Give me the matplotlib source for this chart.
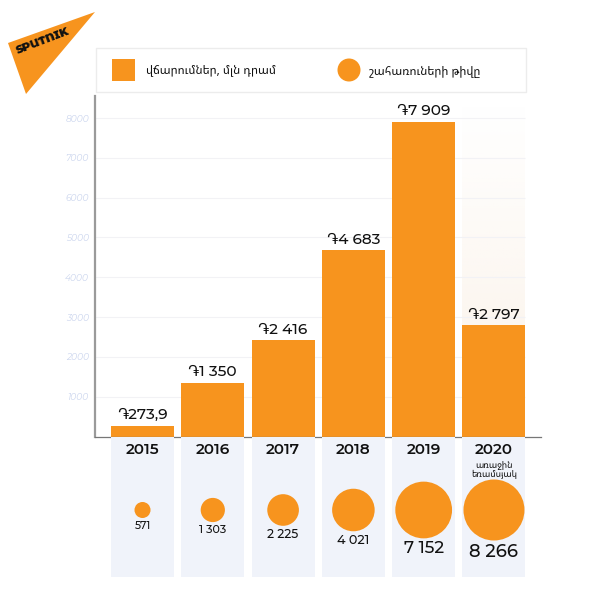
import numpy as np
import matplotlib
matplotlib.use("Agg")
import matplotlib.pyplot as plt
from matplotlib.patches import Polygon, Rectangle, Circle

# digits in Montserrat, dram sign and Armenian text from the Noto face
NUM_FONT = ['Montserrat Alternates', 'Noto Sans Armenian', 'Inter', 'DejaVu Sans']
ARM_FONT = ['Noto Sans Armenian', 'DejaVu Sans']
plt.rcParams['font.family'] = NUM_FONT

# data
years = ["2015", "2016", "2017", "2018", "2019", "2020"]
payments = [273.9, 1350, 2416, 4683, 7909, 2797]
payment_labels = ["֏273,9", "֏1 350", "֏2 416", "֏4 683", "֏7 909", "֏2 797"]
beneficiaries = [571, 1303, 2225, 4021, 7152, 8266]
beneficiary_labels = ["571", "1 303", "2 225", "4 021", "7 152", "8 266"]
yticks = [1000, 2000, 3000, 4000, 5000, 6000, 7000, 8000]
legend_labels = ["վճարումներ, մլն դրամ", "շահառուների թիվը"]
partial_year_note = "առաջին\nեռամսյակ"

W, H = 600, 595
ORANGE = "#f7941e"
PANEL = "#f0f3fa"
TEXT = "#111111"


def px_axes(left, top, right, bottom):
    return fig.add_axes([left / W, 1 - bottom / H, (right - left) / W, (bottom - top) / H])


fig = plt.figure(figsize=(W / 100, H / 100), dpi=100, facecolor="white")

# whole figure overlay in pixel coords, for logo and legend
bg = px_axes(0, 0, W, H)
bg.set_xlim(0, W)
bg.set_ylim(H, 0)
bg.axis("off")

bg.add_patch(Polygon([(95, 12), (8, 43), (26, 94)], closed=True, color=ORANGE, lw=0))
bg.text(43, 41, "SPUTNIK", rotation=21, rotation_mode="anchor", ha="center", va="center",
        fontsize=8.2, fontweight=900, color="#111111")

bg.add_patch(Rectangle((96, 48), 430, 44, fc="white", ec="#ececec", lw=1))
bg.add_patch(Rectangle((112, 59), 23, 22, fc=ORANGE, lw=0))
bg.add_patch(Circle((349, 70), 11.5, fc=ORANGE, lw=0))
bg.text(146, 70, legend_labels[0], va="center", fontsize=8.5, color=TEXT, family=ARM_FONT)
bg.text(369, 71, legend_labels[1], va="center", fontsize=8.5, color=TEXT, family=ARM_FONT)

# bar chart
ax = px_axes(94.5, 96, 541, 436.5)
ax.patch.set_alpha(0)
x = np.arange(len(years))
bar_w = 0.896

# fading background behind the partial year
grad = np.ones((256, 1, 4))
grad[..., :3] = matplotlib.colors.to_rgb("#fbf2e8")
grad[..., 3] = np.linspace(0, 1, 256)[:, None]
ax.imshow(grad, origin="upper", aspect="auto", zorder=0,
          extent=(5 - bar_w / 2, 5 + bar_w / 2, 0, 8300))
ax.set_xlim(-0.683, 5.669)
ax.set_ylim(0, 8555)

ax.hlines(yticks, -0.683, 5 + bar_w / 2, color="#f2f2f5", lw=0.8, zorder=1)
ax.bar(x, payments, width=bar_w, color=ORANGE, zorder=2)

for xi, val, lab in zip(x, payments, payment_labels):
    ax.annotate(lab, (xi, val), xytext=(0, 2.5), textcoords="offset points", ha="center",
                va="bottom", fontsize=11, fontweight=500, color=TEXT, zorder=3)

for s in ["top", "right"]:
    ax.spines[s].set_visible(False)
ax.spines["left"].set_color("#9a9a9a")
ax.spines["left"].set_linewidth(1.6)
ax.spines["bottom"].set_color("#777777")
ax.spines["bottom"].set_linewidth(0.9)
ax.set_xticks([])
ax.set_yticks(yticks)
ax.tick_params(axis="y", length=0, pad=4, labelsize=6.5, labelcolor="#ccd6ee")
for t in ax.get_yticklabels():
    t.set_fontstyle("italic")

# lower panels with beneficiary counts
low = px_axes(94.5, 436.5, 541, 577)
low.set_xlim(ax.get_xlim())
low.set_ylim(140.5, 0)
low.axis("off")
low.patch.set_alpha(0)
low.bar(x, [140.5] * len(x), width=bar_w, color=PANEL, zorder=1)

# circle area follows the count
diam_px = 61 * np.sqrt(np.array(beneficiaries) / beneficiaries[-1])
count_fonts = [7.6, 8, 8.8, 9.2, 12.2, 13]
circle_y = 73.5
low.scatter(x, [circle_y] * len(x), s=(diam_px * 0.72) ** 2, color=ORANGE, lw=0, zorder=2)

for xi, d, lab, fs in zip(x, diam_px, beneficiary_labels, count_fonts):
    low.annotate(lab, (xi, circle_y), xytext=(0, -(d / 2 + 2.5) * 0.72), textcoords="offset points",
                 ha="center", va="top", fontsize=fs, fontweight=500, color=TEXT, zorder=3)

for xi, yr in zip(x, years):
    low.text(xi, 13.5, yr, ha="center", va="center", fontsize=11, fontweight=600,
             color=TEXT, zorder=3)

low.text(x[-1], 33.5, partial_year_note, ha="center", va="center", fontsize=6.5, linespacing=1.05,
         color=TEXT, zorder=3, family=ARM_FONT)

fig.savefig("out.png", dpi=100)
